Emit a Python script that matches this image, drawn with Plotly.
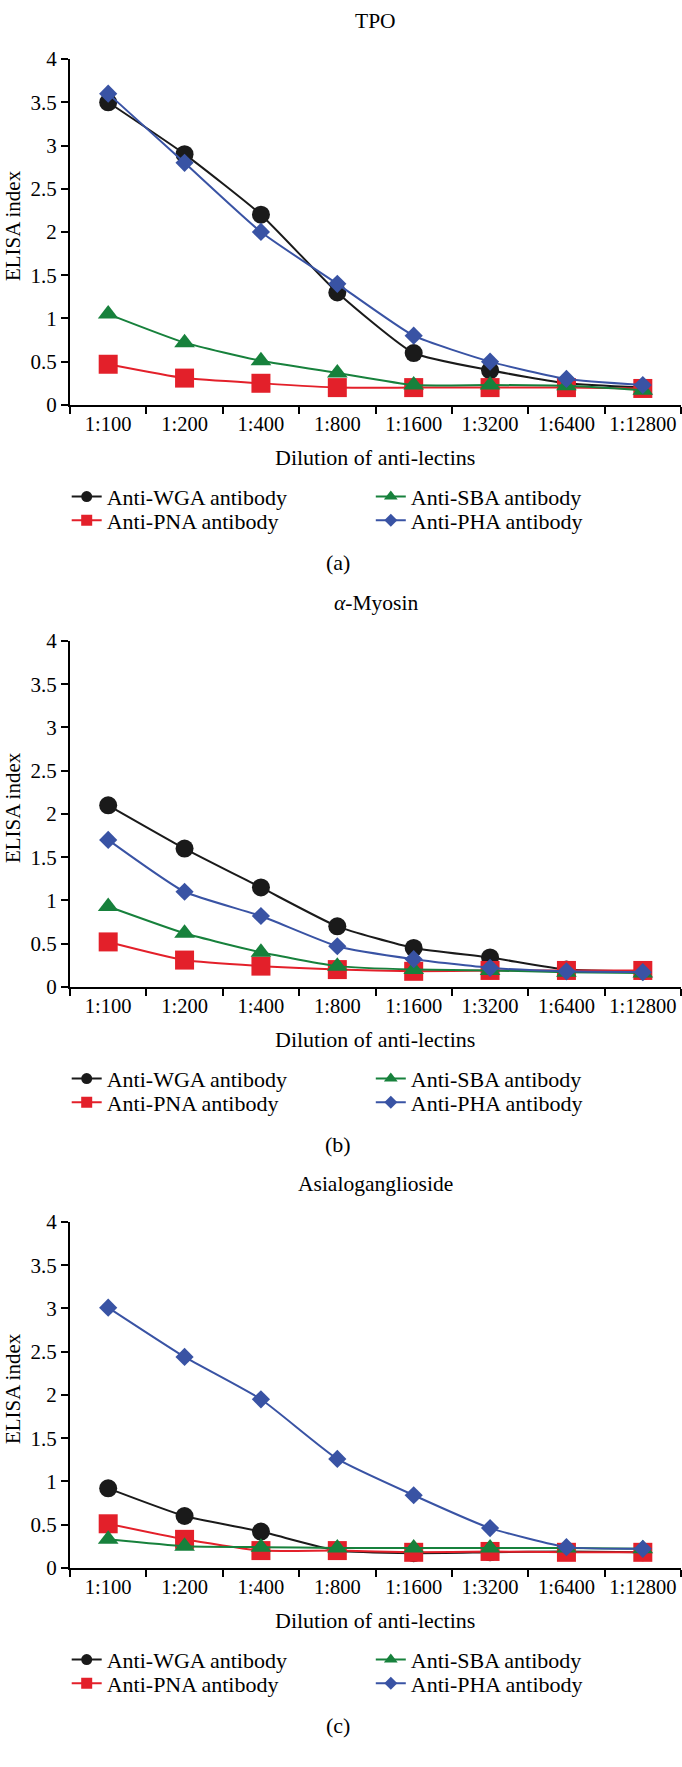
import plotly.graph_objects as go

# ---------------- data ----------------
dilutions = ["1:100", "1:200", "1:400", "1:800", "1:1600", "1:3200", "1:6400", "1:12800"]

series_names = ["Anti-WGA antibody", "Anti-PNA antibody", "Anti-SBA antibody", "Anti-PHA antibody"]

panel_titles = ["TPO", "<i>α</i>-Myosin", "Asialoganglioside"]
panel_labels = ["(a)", "(b)", "(c)"]

tpo_wga = [3.5, 2.9, 2.2, 1.3, 0.6, 0.4, 0.25, 0.2]
tpo_pna = [0.47, 0.31, 0.25, 0.2, 0.2, 0.2, 0.2, 0.19]
tpo_sba = [1.05, 0.72, 0.51, 0.37, 0.23, 0.23, 0.22, 0.17]
tpo_pha = [3.6, 2.8, 2.0, 1.4, 0.8, 0.5, 0.3, 0.23]

myo_wga = [2.1, 1.6, 1.15, 0.7, 0.45, 0.34, 0.2, 0.18]
myo_pna = [0.52, 0.31, 0.24, 0.2, 0.18, 0.19, 0.19, 0.19]
myo_sba = [0.93, 0.62, 0.4, 0.24, 0.2, 0.19, 0.17, 0.16]
myo_pha = [1.7, 1.1, 0.82, 0.47, 0.32, 0.22, 0.18, 0.17]

asg_wga = [0.92, 0.6, 0.42, 0.2, 0.17, 0.18, 0.19, 0.18]
asg_pna = [0.51, 0.33, 0.2, 0.2, 0.18, 0.19, 0.18, 0.18]
asg_sba = [0.33, 0.25, 0.24, 0.23, 0.23, 0.23, 0.23, 0.22]
asg_pha = [3.01, 2.44, 1.95, 1.26, 0.84, 0.46, 0.24, 0.22]

panels = [
    [tpo_wga, tpo_pna, tpo_sba, tpo_pha],
    [myo_wga, myo_pna, myo_sba, myo_pha],
    [asg_wga, asg_pna, asg_sba, asg_pha],
]

# ---------------- style ----------------
FONT = "Liberation Serif, DejaVu Serif, serif"
colors = ["#1a1a1a", "#e3202a", "#17813c", "#3953a4"]
symbols = ["circle", "square", "triangle-up", "diamond"]
msizes = [18, 19, 18, 14]
leg_sizes = [11, 11, 12, 10]
leg_row = [0, 1, 0, 1]   # WGA,SBA on row 1; PNA,PHA on row 2
leg_col = [0, 0, 1, 1]
leg_col_x = [66.7, 370.8]   # item origin (px)
leg_row_y = [491.5, 515.5]  # row centre (px)

W, H = 682, 1767
L, R = 70, 1
PW = W - L - R
panel_off = [0, 590, 1179]
PLOT_TOP, PLOT_BOT = 47.7, 398.3


def py(p):
    return 1 - p / H


def px(p):
    return (p - L) / PW


fig = go.Figure()
layout = dict(
    width=W, height=H,
    margin=dict(l=L, r=R, t=0, b=0),
    paper_bgcolor="white", plot_bgcolor="white",
    font=dict(family=FONT, color="black"),
    annotations=[],
)

n_leg = 0
for i, series in enumerate(panels):
    off = panel_off[i]
    xa = "x" if i == 0 else f"x{i+1}"
    ya = "y" if i == 0 else f"y{i+1}"
    for k, vals in enumerate(series):
        fig.add_trace(go.Scatter(
            x=dilutions, y=vals, xaxis=xa, yaxis=ya,
            mode="lines+markers", name=series_names[k], showlegend=False,
            line=dict(color=colors[k], width=2, shape="spline", smoothing=0.5),
            marker=dict(symbol=symbols[k], size=msizes[k], color=colors[k]),
            hoverinfo="skip",
        ))
    # one single-entry legend per series
    for k in range(4):
        n_leg += 1
        lid = "legend" if n_leg == 1 else f"legend{n_leg}"
        fig.add_trace(go.Scatter(
            x=[None], y=[None], xaxis=xa, yaxis=ya,
            mode="lines+markers", name=series_names[k], showlegend=True, legend=lid,
            line=dict(color=colors[k], width=2),
            marker=dict(symbol=symbols[k], size=leg_sizes[k], color=colors[k]),
        ))
        layout[lid] = dict(
            orientation="v", x=px(leg_col_x[leg_col[k]]), xanchor="left",
            y=py(leg_row_y[leg_row[k]] + off), yanchor="middle",
            font=dict(family=FONT, size=22, color="black"),
            bgcolor="rgba(0,0,0,0)", borderwidth=0, tracegroupgap=0,
        )

    xkey = "xaxis" if i == 0 else f"xaxis{i+1}"
    ykey = "yaxis" if i == 0 else f"yaxis{i+1}"
    layout[xkey] = dict(
        domain=[0, 1], anchor=ya, type="category", categoryorder="array",
        categoryarray=dilutions, range=[-0.5, 7.5], tickson="boundaries",
        ticks="outside", ticklen=7, tickwidth=2, tickcolor="black", tickangle=0,
        showline=True, linecolor="black", linewidth=2,
        showgrid=False, zeroline=False,
        tickfont=dict(family=FONT, size=20.5, color="black"), fixedrange=True,
    )
    layout[ykey] = dict(
        domain=[py(PLOT_BOT + off), py(PLOT_TOP + off)], anchor=xa,
        range=[0, 4], tick0=0, dtick=0.5,
        ticks="outside", ticklen=7, tickwidth=2, tickcolor="black",
        showline=True, linecolor="black", linewidth=2,
        showgrid=False, zeroline=False,
        tickfont=dict(family=FONT, size=21, color="black"), fixedrange=True,
    )
    ann = layout["annotations"]
    ann.append(dict(text=panel_titles[i], x=px(375.5), y=py(9.5 + off), xref="paper", yref="paper",
                    showarrow=False, xanchor="center", yanchor="middle",
                    font=dict(family=FONT, size=21.5, color="black")))
    ann.append(dict(text="ELISA index", x=px(13), y=py(217 + off), xref="paper", yref="paper",
                    showarrow=False, xanchor="center", yanchor="middle", textangle=-90,
                    font=dict(family=FONT, size=21, color="black")))
    ann.append(dict(text="Dilution of anti-lectins", x=px(375), y=py(451.5 + off), xref="paper", yref="paper",
                    showarrow=False, xanchor="center", yanchor="middle",
                    font=dict(family=FONT, size=22, color="black")))
    ann.append(dict(text=panel_labels[i], x=px(338), y=py(558 + off), xref="paper", yref="paper",
                    showarrow=False, xanchor="center", yanchor="middle",
                    font=dict(family=FONT, size=22, color="black")))

fig.update_layout(**layout)
fig.write_html("out.html", config={"displayModeBar": False},
               post_script="document.body.style.margin='0px';")
